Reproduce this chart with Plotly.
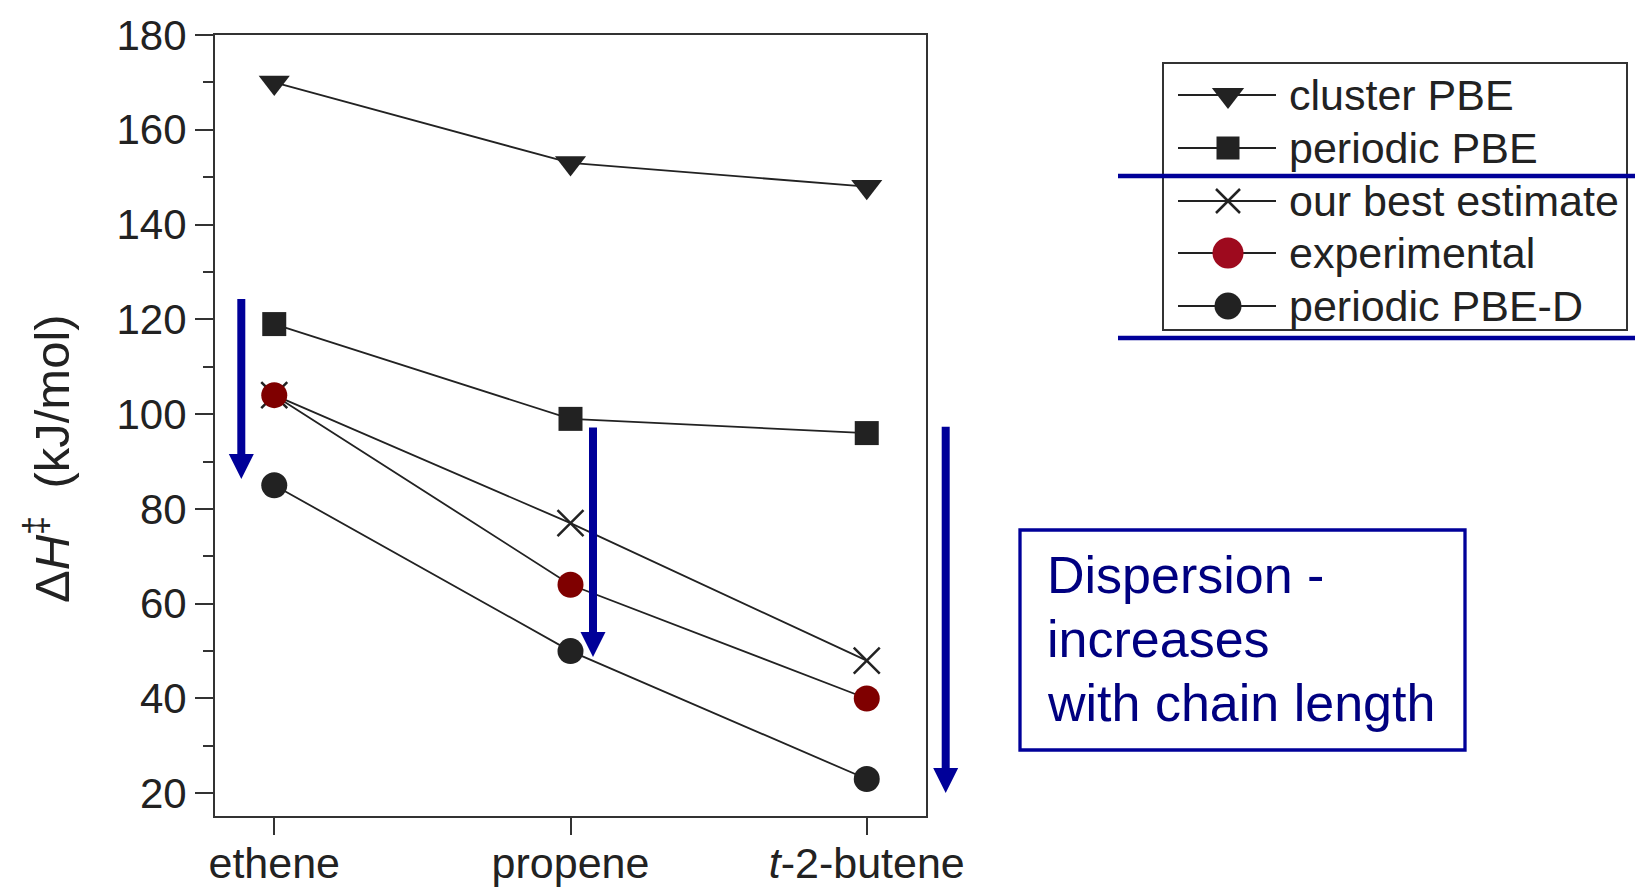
import plotly.graph_objects as go

# ---- data ----
categories = ["ethene", "propene", "<i>t</i>-2-butene"]
cat_pos = [0, 1, 2]
cluster_pbe = [170, 153, 148]
periodic_pbe = [119, 99, 96]
best_estimate = [104, 77, 48]
experimental = [104, 64, 40]
periodic_pbe_d = [85, 50, 23]
y_ticks = [20, 40, 60, 80, 100, 120, 140, 160, 180]
series_names = ["cluster PBE", "periodic PBE", "our best estimate", "experimental", "periodic PBE-D"]

W, H = 1635, 888
INK = "#222222"
AX = "#333333"
BLUE = "#000099"
NAVY = "#000080"
FONT = "Liberation Sans, Arial, sans-serif"

series = [
    (cluster_pbe, dict(symbol="triangle-down", size=27, color=INK)),
    (periodic_pbe, dict(symbol="square", size=24, color=INK)),
    (best_estimate, dict(symbol="x-thin", size=26, color=INK, line=dict(color=INK, width=2.5))),
    (experimental, dict(symbol="circle", size=26, color="#7f0000")),
    (periodic_pbe_d, dict(symbol="circle", size=26, color=INK)),
]

fig = go.Figure()
for (vals, mk), name in zip(series, series_names):
    fig.add_trace(go.Scatter(
        x=cat_pos, y=vals, name=name, mode="lines+markers",
        line=dict(color=INK, width=1.8), marker=mk, showlegend=False,
        xaxis="x", yaxis="y"))

# ---- custom legend on a pixel-space overlay axis ----
leg_rows = [95, 148, 201, 253, 306]
leg_x0, leg_xm, leg_x1, leg_tx = 1178, 1228, 1276, 1287
legend_marks = [
    dict(symbol="triangle-down", size=28, color=INK),
    dict(symbol="square", size=23, color=INK),
    dict(symbol="x-thin", size=24, color=INK, line=dict(color=INK, width=2.5)),
    dict(symbol="circle", size=31, color="#9e0a1e"),
    dict(symbol="circle", size=27, color=INK),
]
for row, mk, name in zip(leg_rows, legend_marks, series_names):
    fig.add_trace(go.Scatter(x=[leg_x0, leg_x1], y=[row, row], mode="lines",
                             line=dict(color=INK, width=1.8), showlegend=False,
                             hoverinfo="skip", xaxis="x2", yaxis="y2"))
    fig.add_trace(go.Scatter(x=[leg_xm], y=[row], mode="markers", marker=mk,
                             showlegend=False, hoverinfo="skip", xaxis="x2", yaxis="y2"))
    fig.add_annotation(x=leg_tx, y=row, xref="x2", yref="y2", text=name, showarrow=False,
                       xanchor="left", yanchor="middle", font=dict(family=FONT, size=43, color=INK))

shapes = [
    dict(type="rect", xref="x2", yref="y2", x0=1163, x1=1627, y0=63, y1=330,
         line=dict(color=AX, width=2), fillcolor="rgba(0,0,0,0)"),
    dict(type="line", xref="x2", yref="y2", x0=1118, x1=1635, y0=176, y1=176,
         line=dict(color=BLUE, width=4.5)),
    dict(type="line", xref="x2", yref="y2", x0=1118, x1=1635, y0=338, y1=338,
         line=dict(color=BLUE, width=4.5)),
    dict(type="rect", xref="x2", yref="y2", x0=1020, x1=1465, y0=530, y1=750,
         line=dict(color=BLUE, width=3.3), fillcolor="rgba(0,0,0,0)"),
]

# arrows (pixel space): x, tail y, tip y
arrows = [(241.3, 299, 479), (593, 427.5, 657), (945.7, 426.7, 793)]
HEAD_W, HEAD_L, SHAFT = 25, 25, 8
for ax_, y0, y1 in arrows:
    shapes.append(dict(type="line", xref="x2", yref="y2", x0=ax_, x1=ax_, y0=y0, y1=y1 - HEAD_L + 2,
                       line=dict(color=BLUE, width=SHAFT)))
    shapes.append(dict(type="path", xref="x2", yref="y2",
                       path=f"M{ax_ - HEAD_W / 2},{y1 - HEAD_L} L{ax_ + HEAD_W / 2},{y1 - HEAD_L} L{ax_},{y1} Z",
                       fillcolor=BLUE, line=dict(color=BLUE, width=0)))

# text box lines
for txt, yc in [("Dispersion -", 575), ("increases", 639), ("with chain length", 703)]:
    fig.add_annotation(x=1045, y=yc, xref="x2", yref="y2", text=txt, showarrow=False,
                       xanchor="left", yanchor="middle", font=dict(family=FONT, size=52, color=NAVY))

# y-axis label
fig.add_annotation(x=48, y=459, xref="x2", yref="y2",
                   text="Δ<i>H</i><sup>‡</sup>&nbsp;&nbsp;(kJ/mol)",
                   showarrow=False, textangle=-90, xanchor="center", yanchor="middle",
                   font=dict(family=FONT, size=49, color=INK))

fig.update_layout(
    width=W, height=H,
    margin=dict(l=0, r=0, t=0, b=0, autoexpand=False),
    paper_bgcolor="white", plot_bgcolor="rgba(0,0,0,0)",
    showlegend=False,
    shapes=shapes,
    font=dict(family=FONT, color=INK),
    xaxis=dict(domain=[215 / W, 926 / W], range=[-0.2, 2.2], anchor="y", automargin=False,
               tickvals=cat_pos, ticktext=categories, ticks="outside", ticklen=17,
               tickwidth=2, tickcolor=AX, showline=True, linewidth=2, linecolor=AX,
               mirror=True, showgrid=False, zeroline=False, ticklabelstandoff=-9,
               tickfont=dict(family=FONT, size=43, color=INK)),
    yaxis=dict(domain=[(H - 816) / H, (H - 35) / H], range=[15.2, 180], anchor="x",
               automargin=False,
               tickvals=y_ticks, ticks="outside", ticklen=18, tickwidth=2, tickcolor=AX,
               showline=True, linewidth=2, linecolor=AX, mirror=True, showgrid=False,
               zeroline=False, tickfont=dict(family=FONT, size=42, color=INK),
               minor=dict(dtick=10, tick0=0, ticks="outside", ticklen=10, tickwidth=2,
                          tickcolor=AX, showgrid=False)),
    xaxis2=dict(domain=[0, 1], range=[0, W], anchor="y2", visible=False, fixedrange=True,
                automargin=False),
    yaxis2=dict(domain=[0, 1], range=[H, 0], anchor="x2", visible=False, fixedrange=True,
                automargin=False),
)

fig.write_html("out.html")
